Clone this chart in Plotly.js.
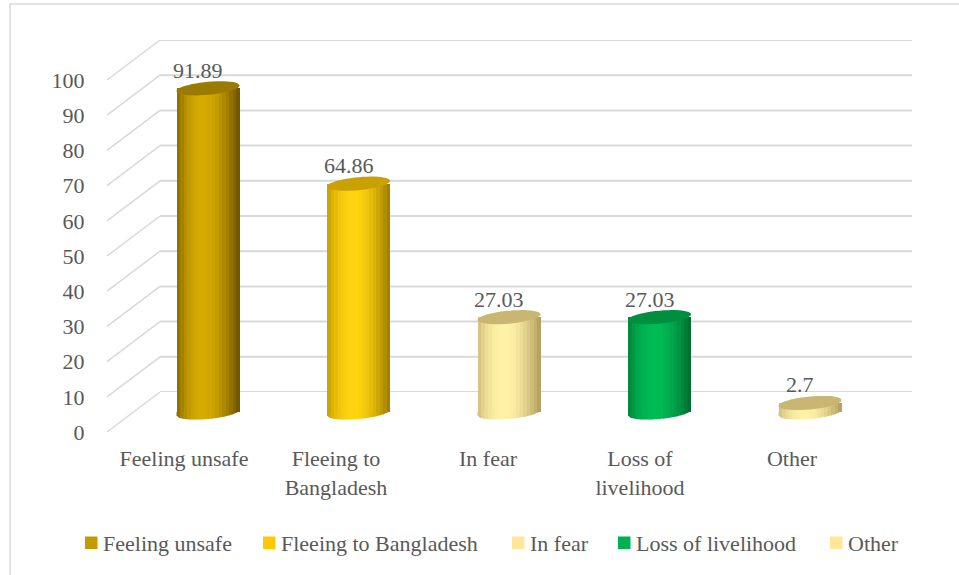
<!DOCTYPE html>
<html><head><meta charset="utf-8">
<script src="https://cdn.plot.ly/plotly-3.0.1.min.js"></script>
<style>html,body{margin:0;padding:0;background:#fff}#chart{width:959px;height:575px}</style>
</head><body><div id="chart"></div>
<script>
// ---- data ----
const categories = ['Feeling unsafe', 'Fleeing to Bangladesh', 'In fear', 'Loss of livelihood', 'Other'];
const tickLabels = ['Feeling unsafe', 'Fleeing to<br>Bangladesh', 'In fear', 'Loss of<br>livelihood', 'Other'];
const values = [91.89, 64.86, 27.03, 27.03, 2.7];
const yTickValues = [0, 10, 20, 30, 40, 50, 60, 70, 80, 90, 100];

// ---- styles ----
const legendColors = ['#C49A00', '#FFC800', '#FFE699', '#00B050', '#FFE699'];
const shadeLeft  = ['#7d6400', '#c29800', '#cdb877', '#00803a', '#cdb877'];
const shadeMid   = ['#d6aa00', '#ffd40f', '#fff3a8', '#00bb56', '#fff3a8'];
const shadeRight = ['#6a5200', '#9a7800', '#b09d5e', '#006a2e', '#b09d5e'];
const capColors  = ['#9a7b00', '#c9a100', '#c9b673', '#008f3f', '#c9b673'];

const W = 959, H = 575;
const front = {x0: 108, x1: 868, y0: 432, y1: 80};
const back  = {x0: 160, x1: 912, y0: 392, y1: 40};
const mid   = {x0: 132.75, x1: 885.25, y0: 412.5, y1: 59.7};
const FONT = '"Liberation Serif", "DejaVu Serif", serif';
const TXT = '#595959';
const GRID = '#d9d9d9';

function hx(h){return [parseInt(h.slice(1,3),16),parseInt(h.slice(3,5),16),parseInt(h.slice(5,7),16)];}
function lerp(c1,c2,s){const a=hx(c1),b=hx(c2);return 'rgb('+a.map((v,i)=>Math.round(v+(b[i]-v)*s)).join(',')+')';}
function shade(ci,t){
  const p=0.42;
  if(t<p){const s=Math.pow(Math.sin(t/p*Math.PI/2),0.7);return lerp(shadeLeft[ci],shadeMid[ci],s);}
  const s=Math.cos((t-p)/(1-p)*Math.PI/2);return lerp(shadeRight[ci],shadeMid[ci],s);
}

const N = 18;
const catPx = (mid.x1-mid.x0)/categories.length;
const halfPx = 31.5, capB = 6.5, tilt = 0.09;
const barW = 2*halfPx/catPx;
// middle (cylinder) axis: extend a little below zero so the rounded bottoms are not clipped
const pxPerUnit = (mid.y0-mid.y1)/100;
const yMin = -6;
const midBottomPx = mid.y0 - yMin*pxPerUnit;

const data = [];
data.push({type:'scatter', x: tickLabels, y: values, mode:'markers', marker:{opacity:0}, hoverinfo:'skip', showlegend:false, xaxis:'x', yaxis:'y'});
data.push({type:'scatter', x:[0], y:[null], mode:'markers', hoverinfo:'skip', showlegend:false, xaxis:'x2', yaxis:'y2'});
for(let i=0;i<N;i++){
  const t=(i+0.5)/N;
  data.push({
    type:'bar', x: categories, y: values, base: 0, xaxis:'x3', yaxis:'y3',
    width: barW/N*(i<N-1?1.2:1), offset: -barW/2 + i*barW/N,
    marker:{color: categories.map((c,ci)=>shade(ci,t)), line:{width:0}},
    hoverinfo:'skip', showlegend:false
  });
}

const shapes = [];
shapes.push({type:'rect', xref:'paper', yref:'paper', x0:10/W, x1:1.05, y0:-0.05, y1:1-4/H, line:{color:GRID, width:1.5}, layer:'below'});
yTickValues.forEach(v=>{
  shapes.push({type:'line', xref:'x2 domain', yref:'y2', x0:0, x1:1, y0:v, y1:v, line:{color:GRID, width:2}, layer:'below'});
  const yf = front.y0 + (front.y1-front.y0)*v/100;
  const yb = back.y0 + (back.y1-back.y0)*v/100;
  shapes.push({type:'line', xref:'paper', yref:'paper', x0:(front.x0-1)/W, x1:back.x0/W, y0:1-yf/H, y1:1-yb/H, line:{color:GRID, width:1.5}, layer:'below'});
});
// pixel-mode path offsets: positive = up
function ybot(x){const r=1-(x/halfPx)*(x/halfPx);return -capB*Math.sqrt(Math.max(0,r))+tilt*x;}
categories.forEach((c,ci)=>{
  for(let i=0;i<N;i++){
    const t=(i+0.5)/N;
    const xl=-halfPx+i*2*halfPx/N, xr=Math.min(halfPx, xl+2*halfPx/N+0.6), xm=(xl+xr)/2;
    const p='M'+xl.toFixed(2)+',0.5 L'+xr.toFixed(2)+',0.5 L'+xr.toFixed(2)+','+ybot(xr).toFixed(2)+' L'+xm.toFixed(2)+','+ybot(xm).toFixed(2)+' L'+xl.toFixed(2)+','+ybot(xl).toFixed(2)+' Z';
    shapes.push({type:'path', xref:'x3', yref:'y3', xsizemode:'pixel', ysizemode:'pixel', xanchor:c, yanchor:0, path:p, fillcolor:shade(ci,t), line:{width:0}, layer:'above'});
  }
  let p='';
  for(let j=0;j<=48;j++){
    const ph=j/48*2*Math.PI, x=halfPx*Math.cos(ph), y=capB*Math.sin(ph)+tilt*x;
    p+=(j===0?'M':'L')+x.toFixed(2)+','+y.toFixed(2)+' ';
  }
  p+='Z';
  shapes.push({type:'path', xref:'x3', yref:'y3', xsizemode:'pixel', ysizemode:'pixel', xanchor:c, yanchor:values[ci], path:p, fillcolor:capColors[ci], line:{width:0}, layer:'above'});
});

const annotations = categories.map((c,ci)=>({
  xref:'x3', yref:'y3', x:c, y:values[ci], text:String(values[ci]), showarrow:false,
  yanchor:'middle', yshift:18, xshift:-10, font:{family:FONT, size:22, color:TXT}
}));

const legSq = [85, 263, 512, 618, 830];
categories.forEach((c,ci)=>{
  shapes.push({type:'rect', xref:'paper', yref:'paper', x0:legSq[ci]/W, x1:(legSq[ci]+12.5)/W, y0:1-549/H, y1:1-536.5/H, fillcolor:legendColors[ci], line:{width:0}});
  annotations.push({xref:'paper', yref:'paper', x:(legSq[ci]+16)/W, y:1-543/H, xanchor:'left', yanchor:'middle', text:c, showarrow:false, font:{family:FONT, size:22, color:TXT}});
});

const layout = {
  width: W, height: H, margin:{l:0,r:0,t:0,b:0},
  font:{family:FONT, color:TXT},
  paper_bgcolor:'#ffffff', plot_bgcolor:'rgba(0,0,0,0)',
  showlegend:false, barmode:'overlay', bargap:0,
  xaxis:{domain:[front.x0/W, front.x1/W], anchor:'y', type:'category', categoryorder:'array', categoryarray:tickLabels,
    range:[-0.5,4.5], showgrid:false, zeroline:false, showline:false, ticks:'outside', ticklen:7, tickcolor:'rgba(0,0,0,0)',
    tickfont:{family:FONT, size:22, color:TXT}, fixedrange:true},
  yaxis:{domain:[1-front.y0/H, 1-front.y1/H], anchor:'x', range:[0,100], tickvals:yTickValues, showgrid:false, zeroline:false, showline:false,
    ticks:'outside', ticklen:18, tickcolor:'rgba(0,0,0,0)', tickfont:{family:FONT, size:22, color:TXT}, fixedrange:true},
  xaxis2:{domain:[back.x0/W, back.x1/W], anchor:'y2', range:[0,1], visible:false},
  yaxis2:{domain:[1-back.y0/H, 1-back.y1/H], anchor:'x2', range:[0,100], visible:false},
  xaxis3:{domain:[mid.x0/W, mid.x1/W], anchor:'y3', type:'category', categoryorder:'array', categoryarray:categories, range:[-0.5,4.5], visible:false},
  yaxis3:{domain:[1-midBottomPx/H, 1-mid.y1/H], anchor:'x3', range:[yMin,100], visible:false},
  shapes: shapes, annotations: annotations
};
Plotly.newPlot('chart', data, layout, {displayModeBar:false, staticPlot:true});
</script></body></html>
